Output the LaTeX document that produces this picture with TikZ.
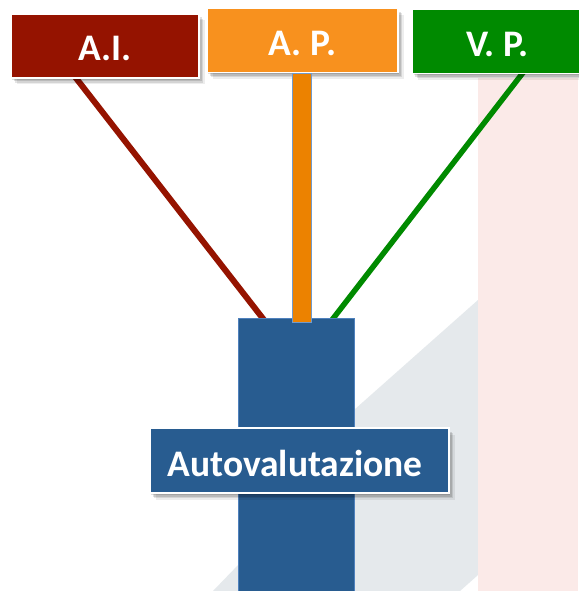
\documentclass[tikz,border=0pt]{standalone}
\usepackage{fontspec}
\setmainfont{Carlito}
\usetikzlibrary{calc}
\usetikzlibrary{shadows}
\definecolor{aired}{HTML}{951300}
\definecolor{aporange}{HTML}{F8911E}
\definecolor{apbar}{HTML}{EC8200}
\definecolor{vpgreen}{HTML}{008A00}
\definecolor{autoblue}{HTML}{285C90}
\definecolor{edgeblue}{HTML}{4F81BD}
\definecolor{bggray}{HTML}{E5E9EC}
\definecolor{bgpink}{HTML}{FBEAE8}
\pgfdeclarelayer{bg}
\pgfdeclarelayer{back}
\pgfsetlayers{bg,back,main}

\begin{document}
\begin{tikzpicture}[x=1pt,y=-1pt,
	softshadow/.style={
		drop shadow={shadow xshift=1pt,shadow yshift=-2pt,opacity=.12,fill=black},
		drop shadow={shadow xshift=2.5pt,shadow yshift=-3.5pt,opacity=.12,fill=black},
		drop shadow={shadow xshift=4pt,shadow yshift=-5pt,opacity=.1,fill=black},
		drop shadow={shadow xshift=5.5pt,shadow yshift=-6.5pt,opacity=.07,fill=black}},
	tag/.style={softshadow,draw=white,line width=1.2pt,inner sep=0pt,text=white,
		font=\fontsize{37.5}{40}\selectfont\bfseries,text height=47pt,text depth=17pt},
	leg/.style={line width=6pt,shorten <=-6pt,shorten >=-6pt}]
		\useasboundingbox (0,0) rectangle (578,591);
%		background
		\begin{pgfonlayer}{bg}
		\fill[white] (0,0) rectangle (578,591);
		\fill[bggray] (213,591) -- (240,563) -- (300,470) -- (354,410) -- (478,300) -- (478,575) -- (460,591) -- cycle;
		\fill[bgpink] (478,78) rectangle (578,591);
		\end{pgfonlayer}
%		column and labels
		\node[fill=autoblue,draw=edgeblue,line width=1pt,minimum width=116pt,minimum height=290pt,inner sep=0pt,anchor=north] (col) at (296,318) {};
		\node[tag,fill=aired,minimum width=188pt] (ai) at (105,46) {A.I.};
		\node[tag,fill=aporange,minimum width=191pt] (ap) at (302.5,40.5) {A. P.};
		\node[tag,fill=vpgreen,minimum width=170pt] (vp) at (497.5,41.5) {V. P.};
		\draw[fill=apbar,draw=edgeblue!80,line width=0.8pt] ($(ap.south)+(-10.5,0)$) rectangle ($(ap.south |- col.north)+(8.5,4)$);
		\node[tag,fill=autoblue,minimum width=299pt,text height=48pt] (auto) at (299.5,460.5) {\kern-9pt Autovalutazione};
%		legs
		\begin{pgfonlayer}{back}
		\draw[leg,aired] ($(ai.south west)+(66,0)$) -- ($(col.north west)+(25,0)$);
		\draw[leg,vpgreen,line width=5.5pt] ($(vp.south west)+(110,0)$) -- ($(col.north east)+(-21,0)$);
		\end{pgfonlayer}
\end{tikzpicture}
\end{document}
